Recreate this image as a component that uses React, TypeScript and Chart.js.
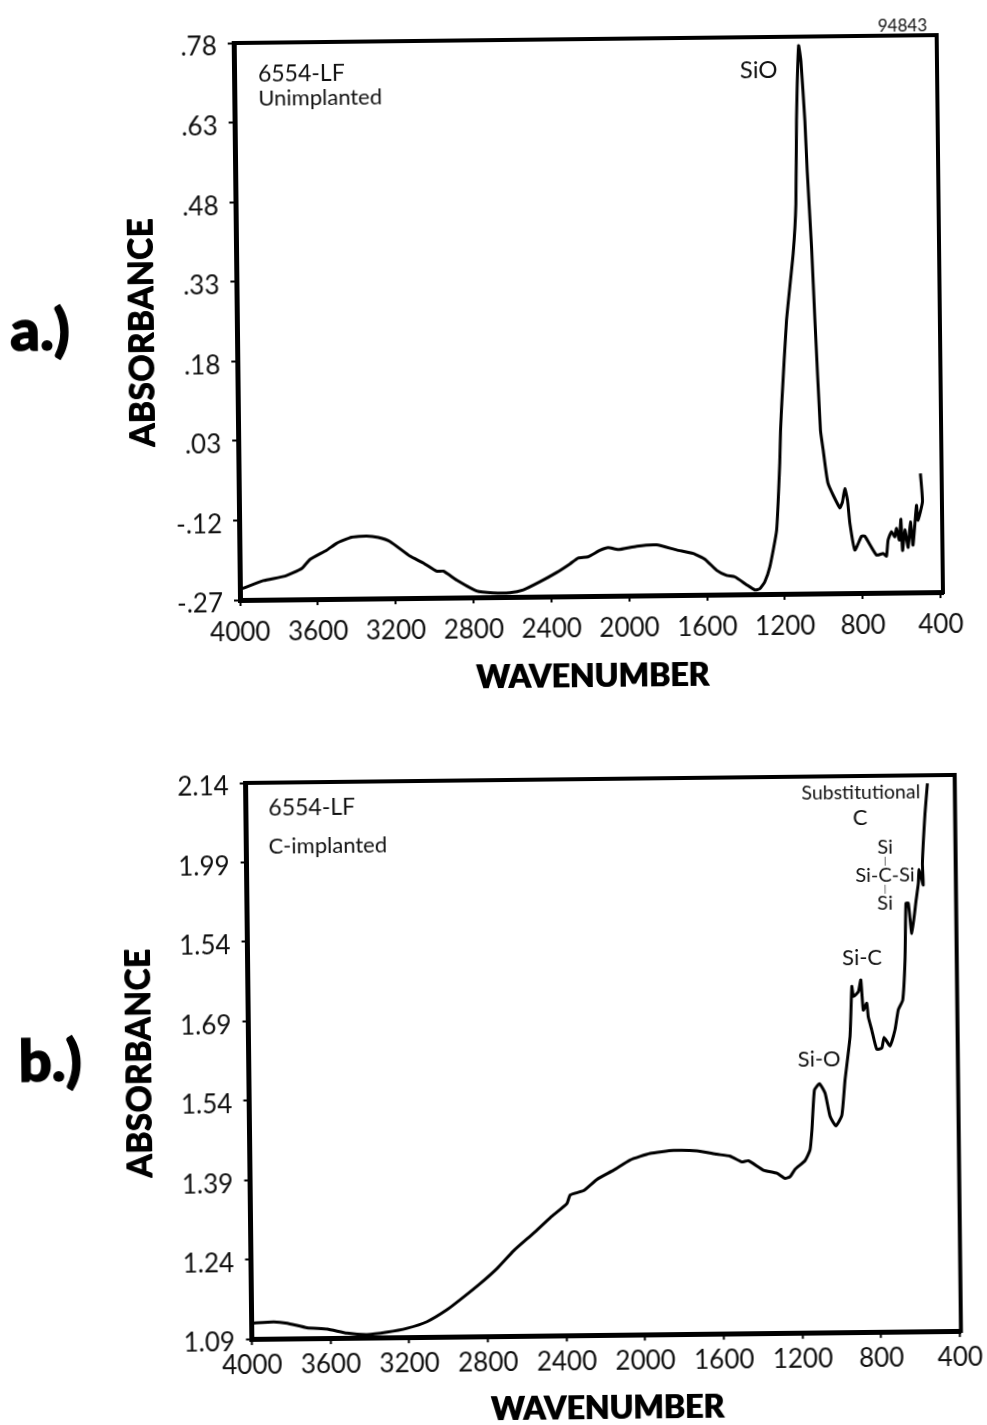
import React, { useEffect, useRef } from "react";
import { Chart, registerables } from "chart.js";

Chart.register(...registerables);

const waveA = [4000, 3985, 3879, 3767, 3681, 3638, 3552, 3500, 3423, 3346, 3286, 3226, 3124, 3057, 2988, 2954, 2886, 2784, 2699, 2613, 2544, 2458, 2372, 2303, 2260, 2209, 2148, 2105, 2054, 1959, 1857, 1754, 1669, 1609, 1550, 1499, 1456, 1397, 1354, 1329, 1303, 1276, 1239, 1219, 1213, 1204, 1176, 1138, 1121, 1113, 1098, 1087, 1070, 1061, 1043, 1030, 1008, 995, 972, 913, 899, 886, 873, 862, 838, 803, 786, 727, 693, 676, 667, 649, 632, 623, 609, 600, 593, 580, 564, 551, 539, 519, 512, 488, 497];
const absA = [-0.249, -0.248, -0.234, -0.226, -0.212, -0.195, -0.178, -0.165, -0.154, -0.152, -0.155, -0.163, -0.191, -0.204, -0.22, -0.22, -0.237, -0.258, -0.262, -0.262, -0.257, -0.242, -0.225, -0.209, -0.198, -0.196, -0.184, -0.179, -0.183, -0.177, -0.175, -0.185, -0.192, -0.203, -0.224, -0.234, -0.237, -0.252, -0.262, -0.26, -0.247, -0.219, -0.15, -0.024, 0.038, 0.095, 0.245, 0.371, 0.465, 0.622, 0.763, 0.734, 0.621, 0.527, 0.383, 0.245, 0.038, 0.0, -0.063, -0.109, -0.098, -0.073, -0.095, -0.139, -0.189, -0.163, -0.163, -0.199, -0.196, -0.201, -0.171, -0.155, -0.165, -0.149, -0.171, -0.132, -0.191, -0.152, -0.185, -0.137, -0.181, -0.106, -0.134, -0.099, -0.046];

const waveB = [4000, 3888, 3820, 3719, 3617, 3516, 3414, 3313, 3211, 3109, 3007, 2921, 2836, 2750, 2665, 2562, 2476, 2391, 2374, 2306, 2237, 2152, 2067, 1965, 1846, 1727, 1626, 1558, 1499, 1466, 1390, 1322, 1280, 1255, 1229, 1178, 1152, 1141, 1126, 1100, 1072, 1048, 1019, 988, 970, 942, 930, 922, 897, 884, 873, 855, 848, 831, 807, 781, 769, 739, 713, 695, 672, 658, 650, 638, 622, 598, 586, 581, 561, 564, 548, 534];
const absB = [1.12, 1.122, 1.119, 1.11, 1.107, 1.099, 1.096, 1.1, 1.107, 1.119, 1.141, 1.165, 1.19, 1.218, 1.251, 1.284, 1.313, 1.339, 1.355, 1.363, 1.384, 1.401, 1.42, 1.432, 1.437, 1.436, 1.429, 1.425, 1.414, 1.416, 1.398, 1.392, 1.382, 1.385, 1.399, 1.415, 1.435, 1.473, 1.548, 1.56, 1.542, 1.498, 1.48, 1.5, 1.566, 1.648, 1.743, 1.724, 1.733, 1.755, 1.698, 1.711, 1.685, 1.66, 1.624, 1.626, 1.646, 1.63, 1.66, 1.698, 1.716, 1.792, 1.899, 1.899, 1.842, 1.905, 1.936, 1.962, 1.933, 1.974, 2.068, 2.125];

const xTickValues = [4000, 3600, 3200, 2800, 2400, 2000, 1600, 1200, 800, 400];
const yTickValuesA = [0.78, 0.63, 0.48, 0.33, 0.18, 0.03, -0.12, -0.27];
const yTickLabelsA = [".78", ".63", ".48", ".33", ".18", ".03", "-.12", "-.27"];
const yTickValuesB = [2.14, 1.99, 1.84, 1.69, 1.54, 1.39, 1.24, 1.09];
const yTickLabelsB = ["2.14", "1.99", "1.54", "1.69", "1.54", "1.39", "1.24", "1.09"];

const FONT = "Lato, 'Open Sans', sans-serif";

type Note = { text: string; x: number; y: number; size: number; align?: CanvasTextAlign };

const notesA: Note[] = [
  { text: "94843", x: 690, y: 0.797, size: 17, align: "left" },
  { text: "6554-LF", x: 3877, y: 0.721, size: 23, align: "left" },
  { text: "Unimplanted", x: 3877, y: 0.674, size: 22, align: "left" },
  { text: "SiO", x: 1401, y: 0.717, size: 24, align: "left" },
];

const notesB: Note[] = [
  { text: "6554-LF", x: 3886, y: 2.092, size: 23, align: "left" },
  { text: "C-implanted", x: 3888, y: 2.019, size: 22, align: "left" },
  { text: "Substitutional", x: 1175, y: 2.109, size: 19.5, align: "left" },
  { text: "C", x: 878, y: 2.061, size: 22, align: "center" },
  { text: "Si", x: 753, y: 2.006, size: 20, align: "center" },
  { text: "|", x: 754, y: 1.979, size: 9, align: "center" },
  { text: "Si-C-Si", x: 755, y: 1.953, size: 20, align: "center" },
  { text: "|", x: 755, y: 1.926, size: 9, align: "center" },
  { text: "Si", x: 756, y: 1.9, size: 20, align: "center" },
  { text: "Si-C", x: 876, y: 1.797, size: 22, align: "center" },
  { text: "Si-O", x: 1100, y: 1.605, size: 22, align: "center" },
];

type Spec = {
  wave: number[];
  abs: number[];
  yValues: number[];
  yLabels: string[];
  xMin: number;
  notes: Note[];
  padding: { top: number; left: number; right: number; bottom: number };
  yWidth: number;
  xHeight: number;
  xLabelPad: number;
  yTitleShift: number;
};

function shiftLabels(sc: any, dy: number) {
  if (sc.__shifted) return;
  sc.__shifted = true;
  const compute = sc._computeLabelItems;
  sc._computeLabelItems = function (area: any) {
    const items = compute.call(this, area);
    items.forEach((it: any) => {
      it.textOffset += dy;
    });
    return items;
  };
}

// The scanned headings are a black grotesque heavier than any installed face:
// repaint them a hair to the side, and move them along the axis if asked.
function heavyTitle(sc: any, dx: number, dy: number) {
  if (sc.__titleWrapped) return;
  sc.__titleWrapped = true;
  const draw = sc.drawTitle;
  sc.drawTitle = function () {
    const ctx = this.ctx;
    ctx.save();
    ctx.translate(dx, dy);
    draw.call(this);
    ctx.translate(1, 0);
    draw.call(this);
    ctx.restore();
  };
}

function build(canvas: HTMLCanvasElement, s: Spec) {
  const yMin = Math.min(...s.yValues);
  const yMax = Math.max(...s.yValues);
  const framePlugin = {
    id: "frameAndNotes",
    afterDraw(chart: any) {
      const { ctx, chartArea: a, scales } = chart;
      ctx.save();
      ctx.strokeStyle = "#000";
      ctx.lineWidth = 4;
      ctx.lineCap = "square";
      ctx.beginPath();
      ctx.moveTo(a.left, a.top);
      ctx.lineTo(a.right, a.top);
      ctx.lineTo(a.right, a.bottom);
      ctx.stroke();
      ctx.fillStyle = "#111";
      ctx.textBaseline = "middle";
      for (const n of s.notes) {
        ctx.font = `${n.size}px ${FONT}`;
        ctx.textAlign = n.align ?? "left";
        ctx.fillText(n.text, scales.x.getPixelForValue(n.x), scales.y.getPixelForValue(n.y));
      }
      ctx.restore();
    },
  };
  return new Chart(canvas, {
    type: "scatter",
    data: {
      datasets: [
        {
          data: s.wave.map((x, i) => ({ x, y: s.abs[i] })),
          showLine: true,
          borderColor: "#000",
          borderWidth: 3,
          pointRadius: 0,
          tension: 0.15,
          clip: false,
        },
      ],
    },
    options: {
      responsive: false,
      animation: false,
      layout: { padding: s.padding },
      plugins: { legend: { display: false }, tooltip: { enabled: false } },
      scales: {
        x: {
          type: "linear",
          reverse: true,
          min: s.xMin,
          max: 4000,
          beforeUpdate: (sc: any) => heavyTitle(sc, 0, 0),
          afterFit: (sc: any) => {
            sc.height = s.xHeight;
          },
          afterBuildTicks: (sc: any) => {
            sc.ticks = xTickValues.map((value) => ({ value }));
          },
          grid: { drawOnChartArea: false, tickLength: 6, tickWidth: 2, tickColor: "#000" },
          border: { display: true, color: "#000", width: 5 },
          ticks: {
            autoSkip: false,
            maxRotation: 0,
            padding: s.xLabelPad,
            color: "#111",
            font: { family: FONT, size: 26 },
            callback: (v: any) => String(v),
          },
          title: {
            display: true,
            text: "WAVENUMBER",
            color: "#000",
            padding: 0,
            font: { family: "Lato, 'DejaVu Sans'", size: 32, weight: "900" },
          },
        },
        y: {
          type: "linear",
          min: yMin,
          max: yMax,
          beforeUpdate: (sc: any) => {
            shiftLabels(sc, 4);
            heavyTitle(sc, 0, s.yTitleShift);
          },
          afterFit: (sc: any) => {
            sc.width = s.yWidth;
          },
          afterBuildTicks: (sc: any) => {
            sc.ticks = s.yValues.map((value) => ({ value }));
          },
          grid: { drawOnChartArea: false, tickLength: 6, tickWidth: 2, tickColor: "#000" },
          border: { display: true, color: "#000", width: 5 },
          ticks: {
            autoSkip: false,
            padding: 11,
            color: "#111",
            font: { family: FONT, size: 26 },
            callback: (_v: any, i: number) => s.yLabels[i],
          },
          title: {
            display: true,
            text: "ABSORBANCE",
            color: "#000",
            padding: 0,
            font: { family: "Lato, 'DejaVu Sans'", size: 34, weight: "900" },
          },
        },
      },
    } as any,
    plugins: [framePlugin],
  } as any);
}

export default function App() {
  const refA = useRef<HTMLCanvasElement>(null);
  const refB = useRef<HTMLCanvasElement>(null);
  useEffect(() => {
    const a = build(refA.current!, {
      wave: waveA,
      abs: absA,
      yValues: yTickValuesA,
      yLabels: yTickLabelsA,
      xMin: 388,
      notes: notesA,
      padding: { top: 43, left: 125, right: 44, bottom: 0 },
      yWidth: 115,
      xHeight: 100,
      xLabelPad: 11,
      yTitleShift: 10,
    });
    const b = build(refB.current!, {
      wave: waveB,
      abs: absB,
      yValues: yTickValuesB,
      yLabels: yTickLabelsB,
      xMin: 395,
      notes: notesB,
      padding: { top: 83.1, left: 113.2, right: 34.35, bottom: 28.2 },
      yWidth: 130.45,
      xHeight: 92.7,
      xLabelPad: 5,
      yTitleShift: 1,
    });
    return () => {
      a.destroy();
      b.destroy();
    };
  }, []);
  const panel: React.CSSProperties = {
    position: "absolute",
    fontFamily: "Lato, 'DejaVu Sans'",
    fontWeight: 900,
    fontSize: 58,
    color: "#000",
    WebkitTextStroke: "1.5px #000",
    transform: "translate(-50%, -50%)",
    lineHeight: 1,
  };
  return (
    <div style={{ position: "absolute", left: 0, top: 0, width: 987, height: 1425, overflow: "hidden", background: "#fff" }}>
      <div style={{ position: "absolute", left: 0, top: 0, width: 987, height: 1460, transform: "rotate(-0.647deg)", transformOrigin: "240px 600px" }}>
        <canvas ref={refA} width={987} height={700} style={{ position: "absolute", left: 0, top: 0, display: "block" }} />
        <canvas ref={refB} width={987} height={760} style={{ position: "absolute", left: 0, top: 700, display: "block" }} />
        <div style={{ ...panel, left: 43, top: 326 }}>a.)</div>
        <div style={{ ...panel, left: 45, top: 1057 }}>b.)</div>
      </div>
    </div>
  );
}
